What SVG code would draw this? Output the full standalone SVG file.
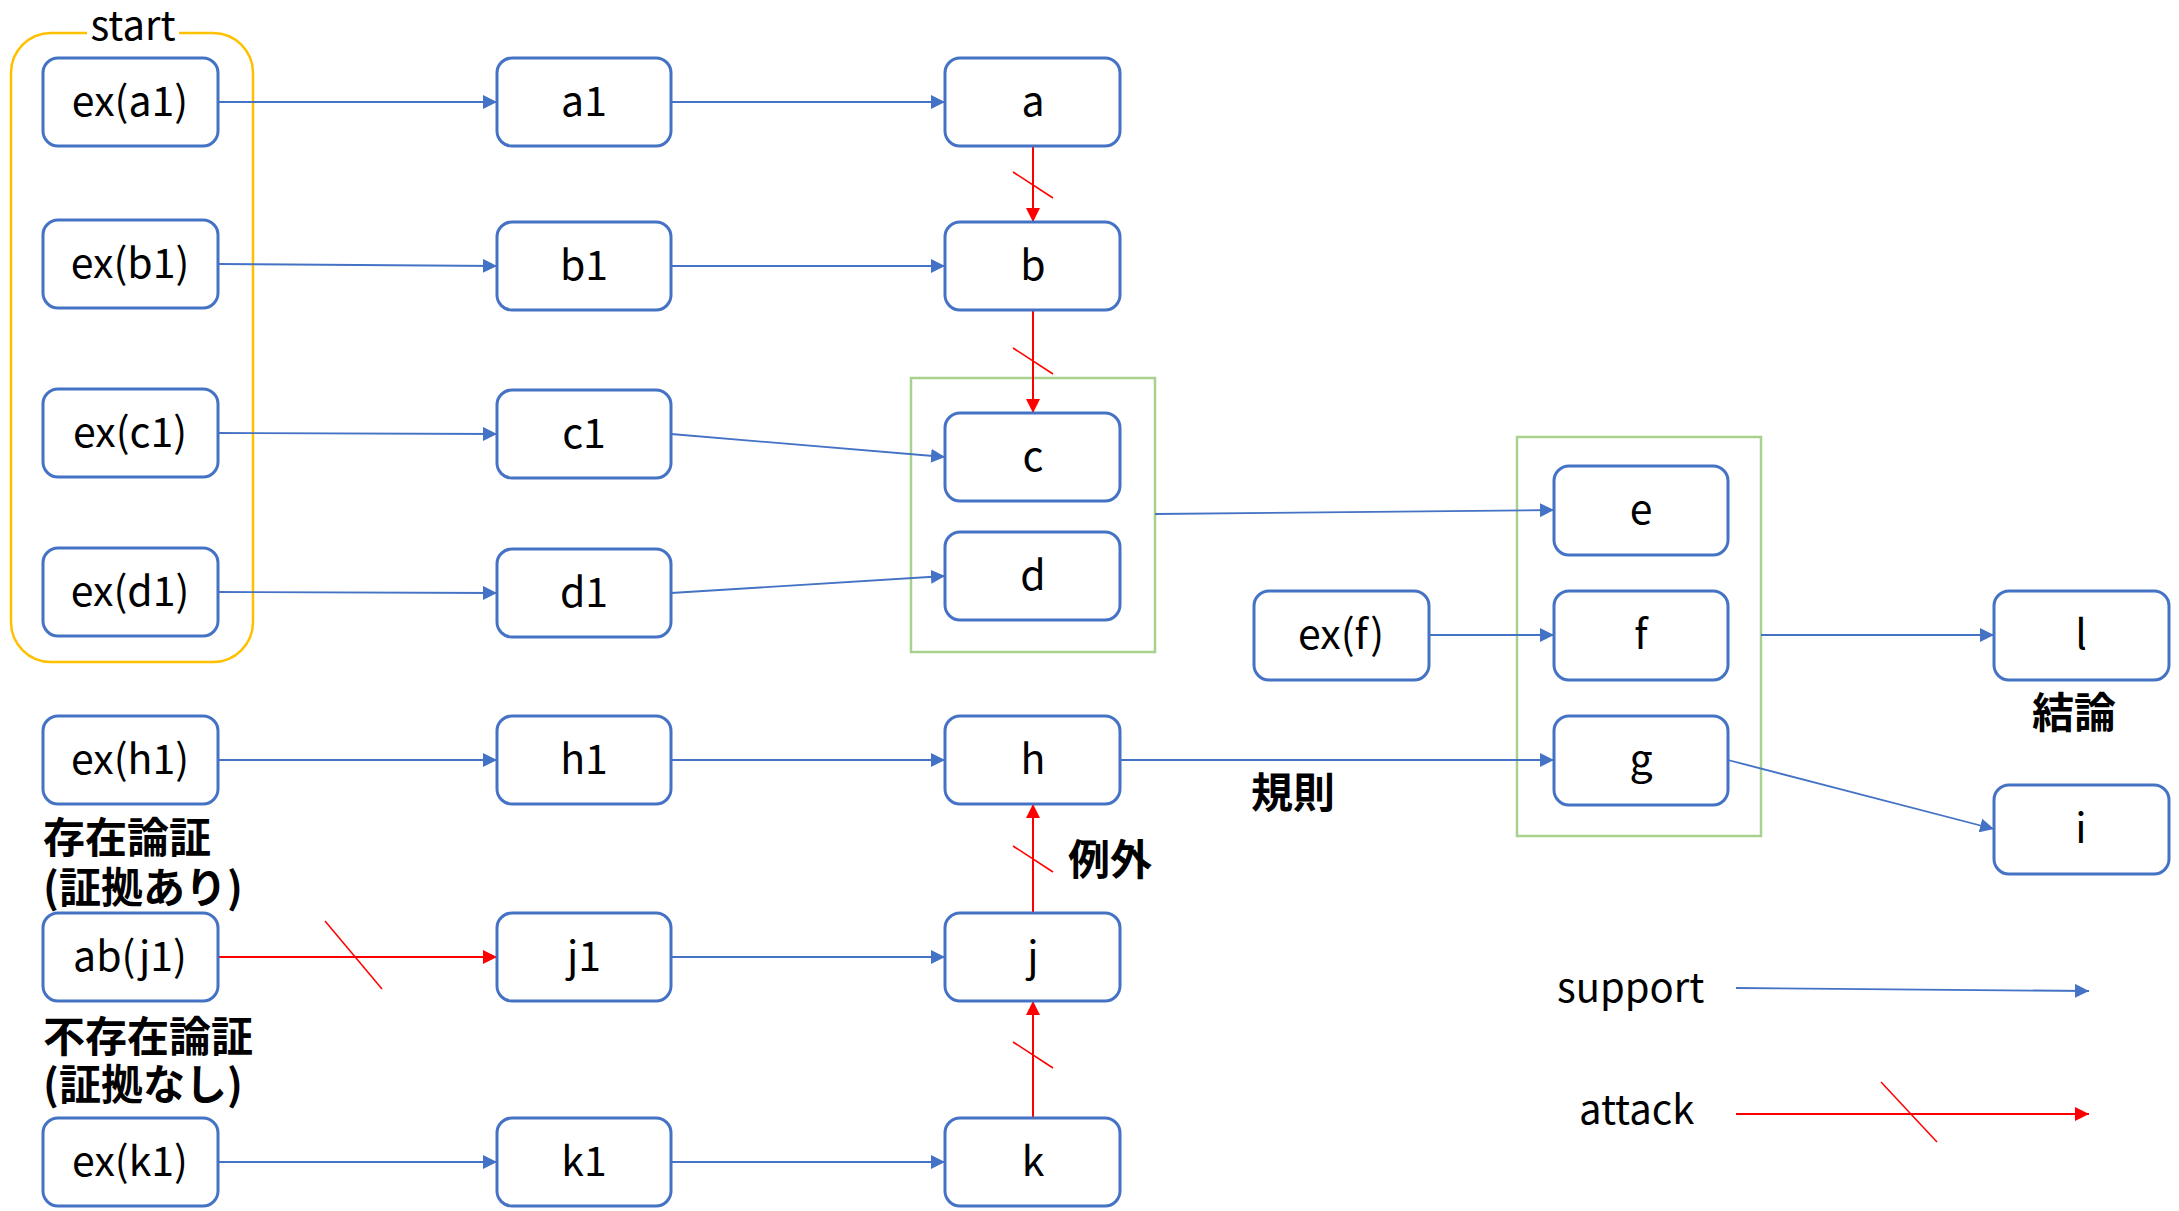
<svg xmlns="http://www.w3.org/2000/svg" width="2179" height="1211" viewBox="0 0 2179 1211">
  <style>
    .node rect { fill: #ffffff; stroke: #4472C4; stroke-width: 3; }
    .node text, .lbl { font-family: "Noto Sans CJK JP", "Noto Sans", sans-serif; font-size: 40px; fill: #000000; }
    .node text { text-anchor: middle; font-size: 41px; }
    .note { font-family: "Noto Sans CJK JP", sans-serif; font-size: 42px; font-weight: bold; fill: #000000; }
    .sup { fill: none; stroke: #4472C4; stroke-width: 1.8; marker-end: url(#arrowBlue); }
    .att { fill: none; stroke: #FF0000; stroke-width: 2; marker-end: url(#arrowRed); }
    .slash { fill: none; stroke: #FF0000; stroke-width: 1.5; }
    .grp { fill: none; stroke: #A9D18E; stroke-width: 2.5; }
    .start { fill: none; stroke: #FFC000; stroke-width: 2.5; }
  </style>
  <defs>
    <marker id="arrowBlue" markerUnits="userSpaceOnUse" markerWidth="14" markerHeight="14" refX="14" refY="7" orient="auto">
      <path d="M0,0 L14,7 L0,14 Z" fill="#4472C4"/>
    </marker>
    <marker id="arrowRed" markerUnits="userSpaceOnUse" markerWidth="14" markerHeight="14" refX="14" refY="7" orient="auto">
      <path d="M0,0 L14,7 L0,14 Z" fill="#FF0000"/>
    </marker>
  </defs>

  <rect width="2179" height="1211" fill="#ffffff"/>

  <!-- start group frame, open at the top for its title -->
  <g id="start-group">
    <path class="start" d="M179,33 L213,33 A40,40 0 0 1 253,73 L253,622 A40,40 0 0 1 213,662 L51,662 A40,40 0 0 1 11,622 L11,73 A40,40 0 0 1 51,33 L87,33"/>
    <text class="lbl" x="133" y="40" text-anchor="middle">start</text>
  </g>

  <!-- conjunction frames -->
  <rect id="group-cd" class="grp" x="911" y="378" width="244" height="274"/>
  <rect id="group-efg" class="grp" x="1517" y="437" width="244" height="399"/>

  <!-- connectors -->
  <g id="connectors">
    <path class="sup" d="M218,102 L497,102"/>
    <path class="sup" d="M671,102 L945,102"/>
    <path class="sup" d="M218,264 L497,266"/>
    <path class="sup" d="M671,266 L945,266"/>
    <path class="sup" d="M218,433 L497,434"/>
    <path class="sup" d="M671,434 L945,457"/>
    <path class="sup" d="M218,592 L497,593"/>
    <path class="sup" d="M671,593 L945,576"/>
    <path class="sup" d="M1155,514 L1554,510"/>
    <path class="sup" d="M1429,635 L1554,635"/>
    <path class="sup" d="M1761,635 L1994,635"/>
    <path class="sup" d="M1728,760 L1994,829"/>
    <path class="sup" d="M218,760 L497,760"/>
    <path class="sup" d="M671,760 L945,760"/>
    <path class="sup" d="M1120,760 L1554,760"/>
    <path class="sup" d="M671,957 L945,957"/>
    <path class="sup" d="M218,1162 L497,1162"/>
    <path class="sup" d="M671,1162 L945,1162"/>

    <path class="att" d="M1033,146 L1033,222"/>
    <path class="slash" d="M1013,172 L1053,198"/>
    <path class="att" d="M1033,310 L1033,413"/>
    <path class="slash" d="M1013,348 L1053,374"/>
    <path class="att" d="M1033,913 L1033,804"/>
    <path class="slash" d="M1013,846 L1053,872"/>
    <path class="att" d="M1033,1118 L1033,1001"/>
    <path class="slash" d="M1013,1042 L1053,1068"/>
    <path class="att" d="M218,957 L497,957"/>
    <path class="slash" d="M325,921 L382,989"/>
  </g>

  <!-- nodes -->
  <g id="n-ex-a1" class="node"><rect x="43" y="58" width="175" height="88" rx="15"/><text x="130" y="116">ex(a1)</text></g>
  <g id="n-ex-b1" class="node"><rect x="43" y="220" width="175" height="88" rx="15"/><text x="130" y="278">ex(b1)</text></g>
  <g id="n-ex-c1" class="node"><rect x="43" y="389" width="175" height="88" rx="15"/><text x="130" y="447">ex(c1)</text></g>
  <g id="n-ex-d1" class="node"><rect x="43" y="548" width="175" height="88" rx="15"/><text x="130" y="606">ex(d1)</text></g>
  <g id="n-ex-h1" class="node"><rect x="43" y="716" width="175" height="88" rx="15"/><text x="130" y="774">ex(h1)</text></g>
  <g id="n-ab-j1" class="node"><rect x="43" y="913" width="175" height="88" rx="15"/><text x="130" y="971">ab(j1)</text></g>
  <g id="n-ex-k1" class="node"><rect x="43" y="1118" width="175" height="88" rx="15"/><text x="130" y="1176">ex(k1)</text></g>

  <g id="n-a1" class="node"><rect x="497" y="58" width="174" height="88" rx="15"/><text x="584" y="116">a1</text></g>
  <g id="n-b1" class="node"><rect x="497" y="222" width="174" height="88" rx="15"/><text x="584" y="280">b1</text></g>
  <g id="n-c1" class="node"><rect x="497" y="390" width="174" height="88" rx="15"/><text x="584" y="448">c1</text></g>
  <g id="n-d1" class="node"><rect x="497" y="549" width="174" height="88" rx="15"/><text x="584" y="607">d1</text></g>
  <g id="n-h1" class="node"><rect x="497" y="716" width="174" height="88" rx="15"/><text x="584" y="774">h1</text></g>
  <g id="n-j1" class="node"><rect x="497" y="913" width="174" height="88" rx="15"/><text x="584" y="971">j1</text></g>
  <g id="n-k1" class="node"><rect x="497" y="1118" width="174" height="88" rx="15"/><text x="584" y="1176">k1</text></g>

  <g id="n-a" class="node"><rect x="945" y="58" width="175" height="88" rx="15"/><text x="1033" y="116">a</text></g>
  <g id="n-b" class="node"><rect x="945" y="222" width="175" height="88" rx="15"/><text x="1033" y="280">b</text></g>
  <g id="n-c" class="node"><rect x="945" y="413" width="175" height="88" rx="15"/><text x="1033" y="471">c</text></g>
  <g id="n-d" class="node"><rect x="945" y="532" width="175" height="88" rx="15"/><text x="1033" y="590">d</text></g>
  <g id="n-h" class="node"><rect x="945" y="716" width="175" height="88" rx="15"/><text x="1033" y="774">h</text></g>
  <g id="n-j" class="node"><rect x="945" y="913" width="175" height="88" rx="15"/><text x="1033" y="971">j</text></g>
  <g id="n-k" class="node"><rect x="945" y="1118" width="175" height="88" rx="15"/><text x="1033" y="1176">k</text></g>

  <g id="n-ex-f" class="node"><rect x="1254" y="591" width="175" height="89" rx="15"/><text x="1341" y="649">ex(f)</text></g>
  <g id="n-e" class="node"><rect x="1554" y="466" width="174" height="89" rx="15"/><text x="1641" y="524">e</text></g>
  <g id="n-f" class="node"><rect x="1554" y="591" width="174" height="89" rx="15"/><text x="1641" y="649">f</text></g>
  <g id="n-g" class="node"><rect x="1554" y="716" width="174" height="89" rx="15"/><text x="1641" y="774">g</text></g>
  <g id="n-l" class="node"><rect x="1994" y="591" width="175" height="89" rx="15"/><text x="2081" y="649">l</text></g>
  <g id="n-i" class="node"><rect x="1994" y="785" width="175" height="89" rx="15"/><text x="2081" y="843">i</text></g>

  <!-- annotations -->
  <text class="note" x="43" y="853">存在論証</text>
  <text class="note" x="43" y="903">(証拠あり)</text>
  <text class="note" x="43" y="1052">不存在論証</text>
  <text class="note" x="43" y="1100">(証拠なし)</text>
  <text class="note" x="1251" y="808">規則</text>
  <text class="note" x="1068" y="875">例外</text>
  <text class="note" x="2032" y="728">結論</text>

  <!-- legend -->
  <g id="legend">
    <text class="lbl" x="1557" y="1002">support</text>
    <path class="sup" d="M1736,988 L2089,991"/>
    <text class="lbl" x="1579" y="1124">attack</text>
    <path class="att" d="M1736,1114 L2089,1114"/>
    <path class="slash" d="M1881,1082 L1937,1142"/>
  </g>
</svg>
